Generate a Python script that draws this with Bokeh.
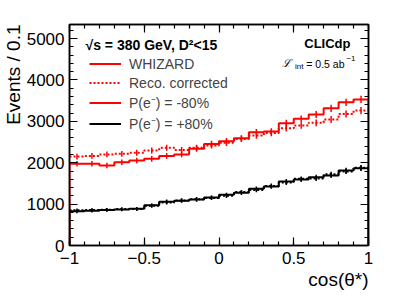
import numpy as np
from bokeh.plotting import figure
from bokeh.models import Range1d, FixedTicker, LinearAxis, Legend, LegendItem, Label, Title
from bokeh.embed import file_html
from bokeh.resources import INLINE

# ---------------- data ----------------
x_lo, x_hi, n_bins = -1.0, 1.0, 20
red_whizard = [1975, 1975, 1935, 2010, 2055, 2095, 2165, 2200, 2335, 2455,
               2520, 2590, 2735, 2755, 2955, 3060, 3165, 3315, 3460, 3530]
red_reco = [2150, 2165, 2200, 2215, 2240, 2295, 2360, 2310, 2360, 2415,
            2480, 2575, 2655, 2720, 2835, 2900, 2965, 3045, 3180, 3260]
black_whizard = [825, 840, 860, 870, 885, 970, 1060, 1080, 1110, 1160,
                 1224, 1272, 1369, 1425, 1546, 1594, 1650, 1691, 1812, 1867]
black_reco = [850, 860, 865, 880, 880, 960, 1040, 1090, 1120, 1150,
              1200, 1290, 1340, 1440, 1520, 1610, 1620, 1720, 1790, 1880]
x_ticks = [-1, -0.5, 0, 0.5, 1]
x_tick_labels = ["\u22121", "\u22120.5", "0", "0.5", "1"]
y_ticks = [0, 1000, 2000, 3000, 4000, 5000]
y_max = 5340
legend_labels = ["WHIZARD", "Reco. corrected", "P(e\u207b) = -80%", "P(e\u207b) = +80%"]
header = "\u221as = 380 GeV, D\u00b2<15"
x_title = "cos(\u03b8*)"
y_title = "Events / 0.1"

FONT = "Liberation Sans"
RED = "#ff0000"
BLACK = "#000000"

edges = np.linspace(x_lo, x_hi, n_bins + 1)
centers = 0.5 * (edges[:-1] + edges[1:])

p = figure(width=391, height=292, output_backend="svg", toolbar_location=None,
           x_range=Range1d(x_lo, x_hi), y_range=Range1d(0, y_max),
           min_border_left=67, min_border_right=23, min_border_top=24, min_border_bottom=47,
           background_fill_color="white", border_fill_color="white")
p.grid.visible = False
p.outline_line_color = BLACK
p.outline_line_width = 1.5


def draw_hist(vals, color, dash, closed):
    vals = list(vals)
    xs = list(edges)
    ys = vals + [vals[-1]]
    if closed:
        xs = [edges[0]] + xs + [edges[-1]]
        ys = [0] + ys + [0]
    p.step(xs, ys, mode="after", line_color=color, line_width=2, line_dash=dash)
    err = np.sqrt(np.array(vals, dtype=float)) * 1.5
    p.segment(x0=centers, y0=np.array(vals) - err, x1=centers, y1=np.array(vals) + err,
              line_color=color, line_width=1.5)


draw_hist(red_reco, RED, "2 2", False)
draw_hist(red_whizard, RED, "solid", True)
draw_hist(black_reco, BLACK, "2 2", False)
draw_hist(black_whizard, BLACK, "solid", True)

# legend with off-screen dummy renderers
far_x = [x_lo - 10, x_lo - 9]
far_y = [-1000, -1000]
r1 = p.line(far_x, far_y, line_color=RED, line_width=2)
r2 = p.line(far_x, far_y, line_color=RED, line_width=2, line_dash="2 2")
r3 = p.line(far_x, far_y, line_color=RED, line_width=2)
r4 = p.line(far_x, far_y, line_color=BLACK, line_width=2)
legend = Legend(items=[LegendItem(label=legend_labels[0], renderers=[r1]),
                       LegendItem(label=legend_labels[1], renderers=[r2]),
                       LegendItem(label=legend_labels[2], renderers=[r3]),
                       LegendItem(label=legend_labels[3], renderers=[r4])],
                location=(20, 112),
                label_text_font=FONT, label_text_font_size="14px",
                glyph_width=32, glyph_height=17, label_height=17, label_standoff=8, spacing=2,
                padding=0, margin=0, border_line_color=None, background_fill_alpha=0)
p.add_layout(legend, "center")

p.add_layout(Label(x=x_lo, y=y_max, text=header, text_align="left", text_baseline="middle",
                   x_offset=16, y_offset=-20, text_font=FONT, text_font_size="14px",
                   text_font_style="bold", text_color=BLACK))

# axes
xt = FixedTicker(ticks=x_ticks, minor_ticks=list(np.round(np.arange(-1, 1.0001, 0.1), 2)))
yt = FixedTicker(ticks=y_ticks, minor_ticks=list(range(0, 5400, 200)))


def style_axis(ax):
    ax.ticker = ax.ticker
    ax.major_tick_in = 8
    ax.major_tick_out = 0
    ax.minor_tick_in = 4
    ax.minor_tick_out = 0
    ax.axis_line_width = 1.5
    ax.major_tick_line_width = 1.2
    ax.minor_tick_line_width = 1.2
    ax.major_label_text_font = FONT
    ax.major_label_text_font_size = "17px"
    ax.major_label_text_color = BLACK


ax_bottom = p.below[0]
ax_left = p.left[0]
ax_bottom.ticker = xt
ax_left.ticker = yt
ax_bottom.major_label_overrides = {t: s for t, s in zip(x_ticks, x_tick_labels)}
style_axis(ax_bottom)
style_axis(ax_left)
ax_bottom.major_label_standoff = 6
ax_left.major_label_standoff = 5

ax_top = LinearAxis(ticker=xt)
ax_right = LinearAxis(ticker=yt)
style_axis(ax_top)
style_axis(ax_right)
ax_top.major_label_overrides = {t: "" for t in x_ticks}
ax_right.major_label_overrides = {t: "" for t in y_ticks}
p.add_layout(ax_top, "above")
p.add_layout(ax_right, "right")

# axis titles (ROOT style, at the far end of each axis)
p.add_layout(Title(text=x_title, align="right", text_font=FONT, text_font_size="19px",
                   text_font_style="normal", text_color=BLACK, standoff=0, offset=0), "below")
p.add_layout(Title(text=y_title, align="right", text_font=FONT, text_font_size="19px",
                   text_font_style="normal", text_color=BLACK, standoff=0, offset=0), "left")

# CLICdp and luminosity
p.add_layout(Label(x=x_hi, y=y_max, text="CLICdp", text_align="right", text_baseline="middle",
                   x_offset=-18, y_offset=-19, text_font=FONT, text_font_size="13px",
                   text_font_style="bold", text_color=BLACK))
p.add_layout(Label(x=x_hi, y=y_max, text="\u22121", text_align="right", text_baseline="middle",
                   x_offset=-13, y_offset=-34, text_font=FONT, text_font_size="8px", text_color=BLACK))
p.add_layout(Label(x=x_hi, y=y_max, text="= 0.5 ab", text_align="right", text_baseline="middle",
                   x_offset=-24, y_offset=-39, text_font=FONT, text_font_size="10.5px", text_color=BLACK))
p.add_layout(Label(x=x_hi, y=y_max, text="int", text_align="right", text_baseline="middle",
                   x_offset=-65, y_offset=-42, text_font=FONT, text_font_size="8px", text_color=BLACK))
p.add_layout(Label(x=x_hi, y=y_max, text="\u2112", text_align="right", text_baseline="middle",
                   x_offset=-78, y_offset=-39, text_font="DejaVu Serif", text_font_size="11px",
                   text_font_style="italic", text_color=BLACK))

open("out.html", "w").write(file_html(p, INLINE))
